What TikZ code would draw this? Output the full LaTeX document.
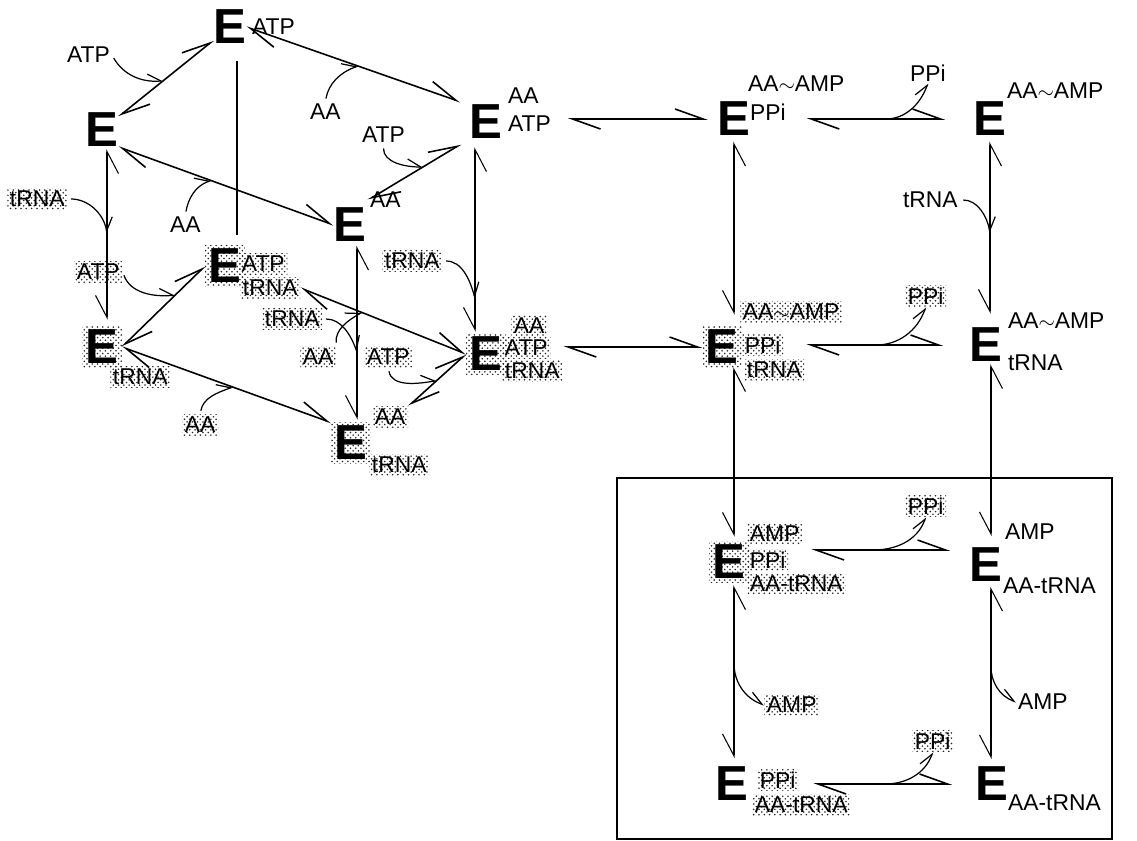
\documentclass[tikz,border=0pt]{standalone}
\usepackage{fontspec}
\setmainfont{Liberation Sans}
\usetikzlibrary{arrows.meta, patterns}
\tikzset{
  enz/.style={font=\fontsize{28}{28}\selectfont\bfseries, inner sep=0pt, outer sep=0pt},
  dotbg/.style={pattern=crosshatch dots, pattern color=black!85, inner sep=2pt},
  enzd/.style={enz, dotbg},
  lig/.style={font=\fontsize{13}{14}\selectfont, inner sep=1pt, anchor=west},
  ligd/.style={lig, dotbg, inner sep=1.5pt},
  eqL/.style={{Straight Barb[harpoon, length=5.6mm, width=4mm]}-{Straight Barb[harpoon, length=5.6mm, width=4mm]}, line width=0.9pt},
  eqR/.style={{Straight Barb[harpoon, swap, length=4.4mm, width=4.6mm]}-{Straight Barb[harpoon, swap, length=4.4mm, width=4.6mm]}, line width=0.6pt},
  bind/.style={-{Straight Barb[harpoon, length=2.6mm, width=3.2mm]}, line width=0.7pt, shorten <=2pt},
}

\begin{document}
\begin{tikzpicture}[x=0.02cm, y=-0.02cm]
  \useasboundingbox (0,0) rectangle (1137,841);
  % enzyme forms
  \foreach \n/\x/\y/\s in {eF/102/130/enz, eA/230/27/enz, eAT/486/122/enz, eM/350/225/enz,
                           eTT/225/266/enzd, eR/102/347/enzd, eATR/486/354/enzd, eMR/351/443/enzd,
                           eP/734/119/enz, eX/990/119/enz, eP2/722/347/enzd, eX2/986/345/enz,
                           eP3/729/562/enzd, eX3/986/565/enz, eP4/732/784/enz, eX4/992/784/enz}{
    \node[\s] (\n) at (\x,\y) {E};
  }
  % what is bound to them
  \foreach \n/\x/\y/\s/\t in {eAa/250/27/lig/ATP, eATa/506/96/lig/AA, eATb/506/124/lig/ATP, eMa/368/200/lig/AA,
                              eTTa/239/264/ligd/ATP, eTTb/240/288/ligd/tRNA, eRa/110/377/ligd/tRNA,
                              eATRa/511/326/ligd/AA, eATRb/502/348/ligd/ATP, eATRc/502/371/ligd/tRNA,
                              eMRa/372/417/ligd/AA, eMRb/369/465/ligd/tRNA,
                              ePa/746/84/lig/{AA$\sim$AMP}, ePb/748/112/lig/PPi, eXa/1005/91/lig/{AA$\sim$AMP},
                              eP2a/740/312/ligd/{AA$\sim$AMP}, eP2b/742/345/ligd/PPi, eP2c/744/370/ligd/tRNA,
                              eX2a/1006/321/lig/{AA$\sim$AMP}, eX2b/1006/363/lig/tRNA,
                              eP3a/747/534/ligd/AMP, eP3b/747/560/ligd/PPi, eP3c/747/584/ligd/AA-tRNA,
                              eX3a/1003/532/lig/AMP, eX3b/1001/586/lig/AA-tRNA,
                              eP4a/757/780/ligd/PPi, eP4b/752/805/ligd/AA-tRNA, eX4a/1006/803/lig/AA-tRNA}{
    \node[\s] (\n) at (\x,\y) {\t};
  }
  % substrates and products
  \foreach \n/\x/\y/\s/\t in {bATP1/65/55/lig/ATP, bAA1/308/112/lig/AA, bATP2/360/135/lig/ATP, bAA2/168/225/lig/AA,
                              btR1/7/199/ligd/tRNA, bATP3/74/272/ligd/ATP, btR2/382/261/ligd/tRNA,
                              btR3/262/319/ligd/tRNA, bAA3/300/357/ligd/AA, bATP4/364/357/ligd/ATP,
                              bAA4/182/425/ligd/AA, bPP1/908/73/lig/PPi, btR4/901/200/lig/tRNA,
                              bPP2/905/296/ligd/PPi, bPP3/905/506/ligd/PPi, bAMP1/764/705/ligd/AMP,
                              bAMP2/1016/702/lig/AMP, bPP4/912/741/ligd/PPi}{
    \node[\s] (\n) at (\x,\y) {\t};
  }
  % cube
  \draw[eqL] (eF) -- (eA) coordinate[pos=0.47] (l1);
  \draw[eqL, shorten >=0.2cm] (eA.east) -- (eAT.north west) coordinate[pos=0.5] (l2);
  \draw[eqL] (eF.south east) -- (eM.west) coordinate[pos=0.43] (l3);
  \draw[eqL, shorten <=0.2cm] (eAT.south west) -- (eMa.west) coordinate[pos=0.46] (l4);
  \draw[line width=0.6pt, shorten <=0.34cm, shorten >=0.22cm] ([xshift=0.14cm]eA.south) -- ([xshift=0.14cm]eA.south |- eTT.north);
  \draw[eqR, shorten <=0.05cm, shorten >=0.14cm] ([xshift=0.1cm]eF.south) -- ([xshift=0.1cm]eF.south |- eR.north) coordinate[pos=0.48] (l6);
  \draw[eqL] (eR.east) -- (eTT.west) coordinate[pos=0.64] (l7);
  \draw[eqL] (eR.east) -- (eMR.north west) coordinate[pos=0.53] (l8);
  \draw[eqL] (eTTb.east) -- (eATR.west) coordinate[pos=0.37] (l9);
  \draw[eqR, shorten <=0.08cm, shorten >=0.06cm] ([xshift=0.14cm]eM.south) -- ([xshift=0.14cm]eM.south |- eMR.north) coordinate[pos=0.61] (l10);
  \draw[eqR, shorten <=0.17cm, shorten >=0.04cm] ([xshift=-0.22cm]eAT.south) -- ([xshift=-0.22cm]eAT.south |- eATR.north) coordinate[pos=0.82] (l11);
  \draw[eqL] (eMRa.north east) -- (eATR.west) coordinate[pos=0.49] (l12);
  % right part
  \draw[eqL, shorten <=0.3cm, shorten >=0.2cm] (eATb.east |- eP) -- (eP);
  \draw[eqL, shorten <=0.38cm, shorten >=0.57cm] (ePb.east |- eP) -- (eX) coordinate[pos=0.51] (l14);
  \draw[eqR, shorten <=0.12cm, shorten >=0.24cm] (eP.south) -- (eP.south |- eP2.north);
  \draw[eqR, shorten <=0.12cm, shorten >=0.29cm] (eX.south) -- (eX.south |- eX2.north) coordinate[pos=0.505] (l16);
  \draw[eqL, shorten <=0.26cm] (eATRb.east |- eP2) -- (eP2);
  \draw[eqL, shorten <=0.46cm, shorten >=0.53cm] (eP2b.east |- eX2) -- (eX2) coordinate[pos=0.48] (l18);
  \draw[eqR, shorten >=0.1cm] ([xshift=0.24cm]eP2.south) -- ([xshift=0.24cm]eP2.south |- eP3.north);
  \draw[eqR, shorten <=0.05cm, shorten >=0.24cm] ([xshift=0.1cm]eX2.south) -- ([xshift=0.1cm]eX2.south |- eX3.north);
  \draw[eqL, shorten <=0.46cm, shorten >=0.39cm] ([yshift=0.2cm]eP3b.east) -- ([yshift=0.2cm]eP3b.east -| eX3.west) coordinate[pos=0.45] (l21);
  \draw[eqR, shorten <=0.06cm, shorten >=0.18cm] ([xshift=0.1cm]eP3.south) -- ([xshift=0.1cm]eP3.south |- eP4.north) coordinate[pos=0.42] (l22);
  \draw[eqR, shorten <=0.1cm, shorten >=0.16cm] ([xshift=0.1cm]eX3.south) -- ([xshift=0.1cm]eX3.south |- eX4.north) coordinate[pos=0.44] (l23);
  \draw[eqL, shorten <=0.3cm, shorten >=0.47cm] (eP4a.east |- eX4) -- (eX4) coordinate[pos=0.47] (l24);
  % binding and release
  \foreach \a/\b/\o/\i in {bATP1.east/l1/-60/185, bAA1.north/l2/80/200, bATP2.south/l4/-90/180, bAA2.north/l3/80/200,
                           btR1.east/l6/0/100, bATP3.east/l7/-70/185, btR2.east/l11/0/105, btR3.east/l10/0/110,
                           bAA3.north east/l9/95/210, bATP4.south/l12/-80/190, bAA4.north/l8/80/200, btR4.east/l16/0/100,
                           l14/bPP1.south/0/-110, l18/bPP2.south/0/-110, l21/bPP3.south/0/-110, l24/bPP4.south/0/-110,
                           l22/bAMP1.west/-90/160, l23/bAMP2.west/-90/160}{
    \draw[bind] (\a) to[out=\o, in=\i] (\b);
  }
  \draw[line width=0.6pt] (617,478) rectangle (1112,839);
\end{tikzpicture}
\end{document}
